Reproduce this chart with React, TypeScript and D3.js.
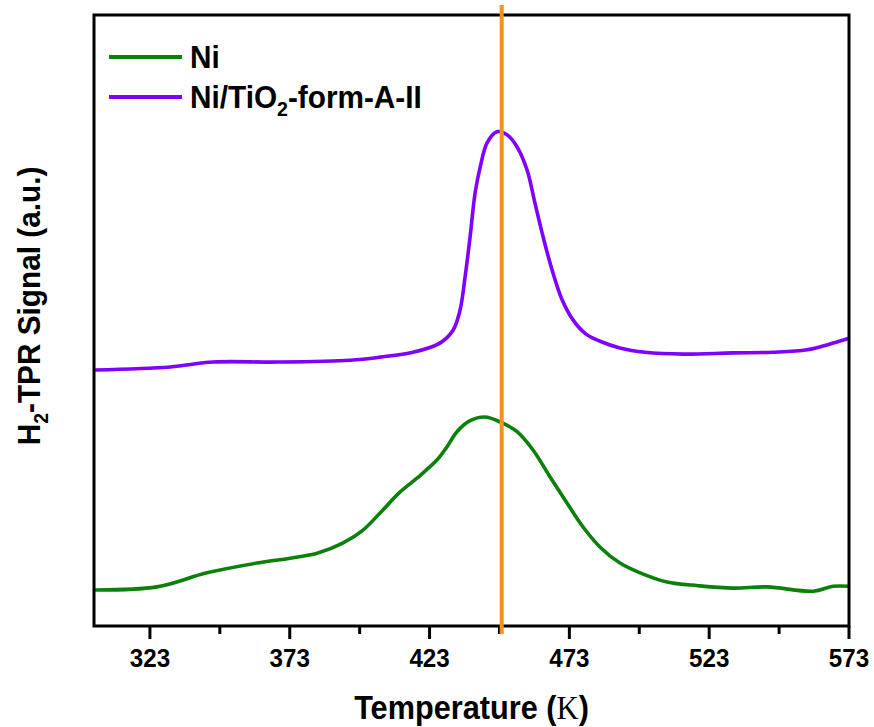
import React from "react";
import * as d3 from "d3";

// Temperature (K) and H2-TPR signal (a.u.)
const niT = [303.4, 325.5, 343.4, 361.3, 373.1, 382.8, 392.1, 399.2, 405.3, 412.4, 418.5, 425.7, 429.2, 432.8, 437.5, 442.8, 448.2, 454.3, 460.0, 466.1, 472.2, 477.9, 484.0, 491.1, 498.3, 507.9, 519.0, 531.5, 543.7, 560.2, 567.3, 573.0];
const niY = [5.9, 6.4, 8.7, 10.3, 11.1, 11.9, 13.6, 15.7, 18.5, 21.9, 24.2, 27.2, 29.3, 31.8, 33.6, 34.2, 33.4, 31.8, 28.8, 24.4, 20.1, 16.2, 12.9, 10.3, 8.7, 7.2, 6.6, 6.2, 6.4, 5.7, 6.5, 6.5];

const tiT = [303.4, 330.2, 345.6, 368.5, 394.6, 405.3, 417.1, 426.7, 431.4, 433.9, 435.7, 437.5, 439.3, 441.1, 443.6, 447.1, 450.7, 454.3, 457.9, 460.7, 463.6, 466.8, 470.4, 474.3, 478.6, 484.0, 491.1, 500.1, 513.7, 531.5, 545.8, 558.0, 567.3, 573.0];
const tiY = [41.9, 42.4, 43.2, 43.2, 43.5, 44.0, 44.8, 46.3, 48.4, 51.7, 57.1, 63.7, 70.9, 75.1, 79.1, 80.9, 80.4, 78.4, 74.6, 69.2, 63.7, 58.3, 53.4, 50.1, 47.9, 46.6, 45.5, 44.8, 44.5, 44.7, 44.8, 45.2, 46.3, 47.1];

const markerT = 448.8;
const xTicks = [323, 373, 423, 473, 523, 573];
const xMinorTicks = [348, 398, 448, 498, 548];
const xDomain = [303, 573];
const yDomain = [0, 100];

const seriesNames = ["Ni", "Ni/TiO2-form-A-II"];
const seriesColors = ["#0b800b", "#7f00ff"];

const W = 874, H = 727;
const L = 94, R = 849, T = 15, B = 626;
const FONT = "Arial, 'Liberation Sans', Helvetica, sans-serif";
const SX = 0.93;

export default function App() {
  const x = d3.scaleLinear().domain(xDomain).range([L, R]);
  const y = d3.scaleLinear().domain(yDomain).range([B, T]);
  const line = d3
    .line<[number, number]>()
    .x((d) => x(d[0]))
    .y((d) => y(d[1]))
    .curve(d3.curveCatmullRom.alpha(0.5));
  const niData = niT.map((t, i) => [t, niY[i]] as [number, number]);
  const tiData = tiT.map((t, i) => [t, tiY[i]] as [number, number]);

  return (
    <svg
      width={W}
      height={H}
      style={{ position: "absolute", left: 0, top: 0, background: "#fff" }}
    >
      <rect x={0} y={0} width={W} height={H} fill="#fff" />
      {/* curves */}
      <path d={line(niData) || ""} fill="none" stroke={seriesColors[0]} strokeWidth={3.6} strokeLinejoin="round" />
      <path d={line(tiData) || ""} fill="none" stroke={seriesColors[1]} strokeWidth={3.6} strokeLinejoin="round" />

      {/* ticks */}
      {xTicks.map((t) => (
        <line key={"M" + t} x1={x(t)} x2={x(t)} y1={B} y2={B + 13} stroke="#000" strokeWidth={3} />
      ))}
      {xMinorTicks.map((t) => (
        <line key={"m" + t} x1={x(t)} x2={x(t)} y1={B} y2={B + 8} stroke="#000" strokeWidth={3} />
      ))}
      {xTicks.map((t) => (
        <g key={"l" + t} transform={`translate(${x(t)},667) scale(${SX},1)`}>
          <text textAnchor="middle" fontFamily={FONT} fontWeight="bold" fontSize={26} fill="#000">
            {t}
          </text>
        </g>
      ))}

      {/* frame */}
      <rect x={L} y={T} width={R - L} height={B - T} fill="none" stroke="#000" strokeWidth={3} />

      {/* marker line */}
      <line x1={x(markerT)} x2={x(markerT)} y1={5} y2={B + 8} stroke="#f7901e" strokeWidth={4} />

      {/* axis titles */}
      <g transform={`translate(${(L + R) / 2},719) scale(${SX},1)`}>
        <text textAnchor="middle" fontFamily={FONT} fontWeight="bold" fontSize={33} fill="#000">
          Temperature (<tspan fontFamily="'Times New Roman', 'Liberation Serif', serif" fontWeight="normal">K</tspan>)
        </text>
      </g>
      <g transform={`translate(40,306) rotate(-90) scale(${SX},1)`}>
        <text textAnchor="middle" fontFamily={FONT} fontWeight="bold" fontSize={32} fill="#000">
          H<tspan fontSize={21} dy={8}>2</tspan>
          <tspan dy={-8}>-TPR Signal (a.u.)</tspan>
        </text>
      </g>

      {/* legend */}
      <line x1={109} x2={182} y1={57} y2={57} stroke={seriesColors[0]} strokeWidth={4} />
      <line x1={109} x2={182} y1={97} y2={97} stroke={seriesColors[1]} strokeWidth={4} />
      <g transform={`translate(190,68) scale(${SX},1)`}>
        <text fontFamily={FONT} fontWeight="bold" fontSize={32} fill="#000">
          {seriesNames[0]}
        </text>
      </g>
      <g transform={`translate(190,108) scale(${SX},1)`}>
        <text fontFamily={FONT} fontWeight="bold" fontSize={32} fill="#000">
          Ni/TiO<tspan fontSize={21} dy={8}>2</tspan>
          <tspan dy={-8}>-form-A-II</tspan>
        </text>
      </g>
    </svg>
  );
}
